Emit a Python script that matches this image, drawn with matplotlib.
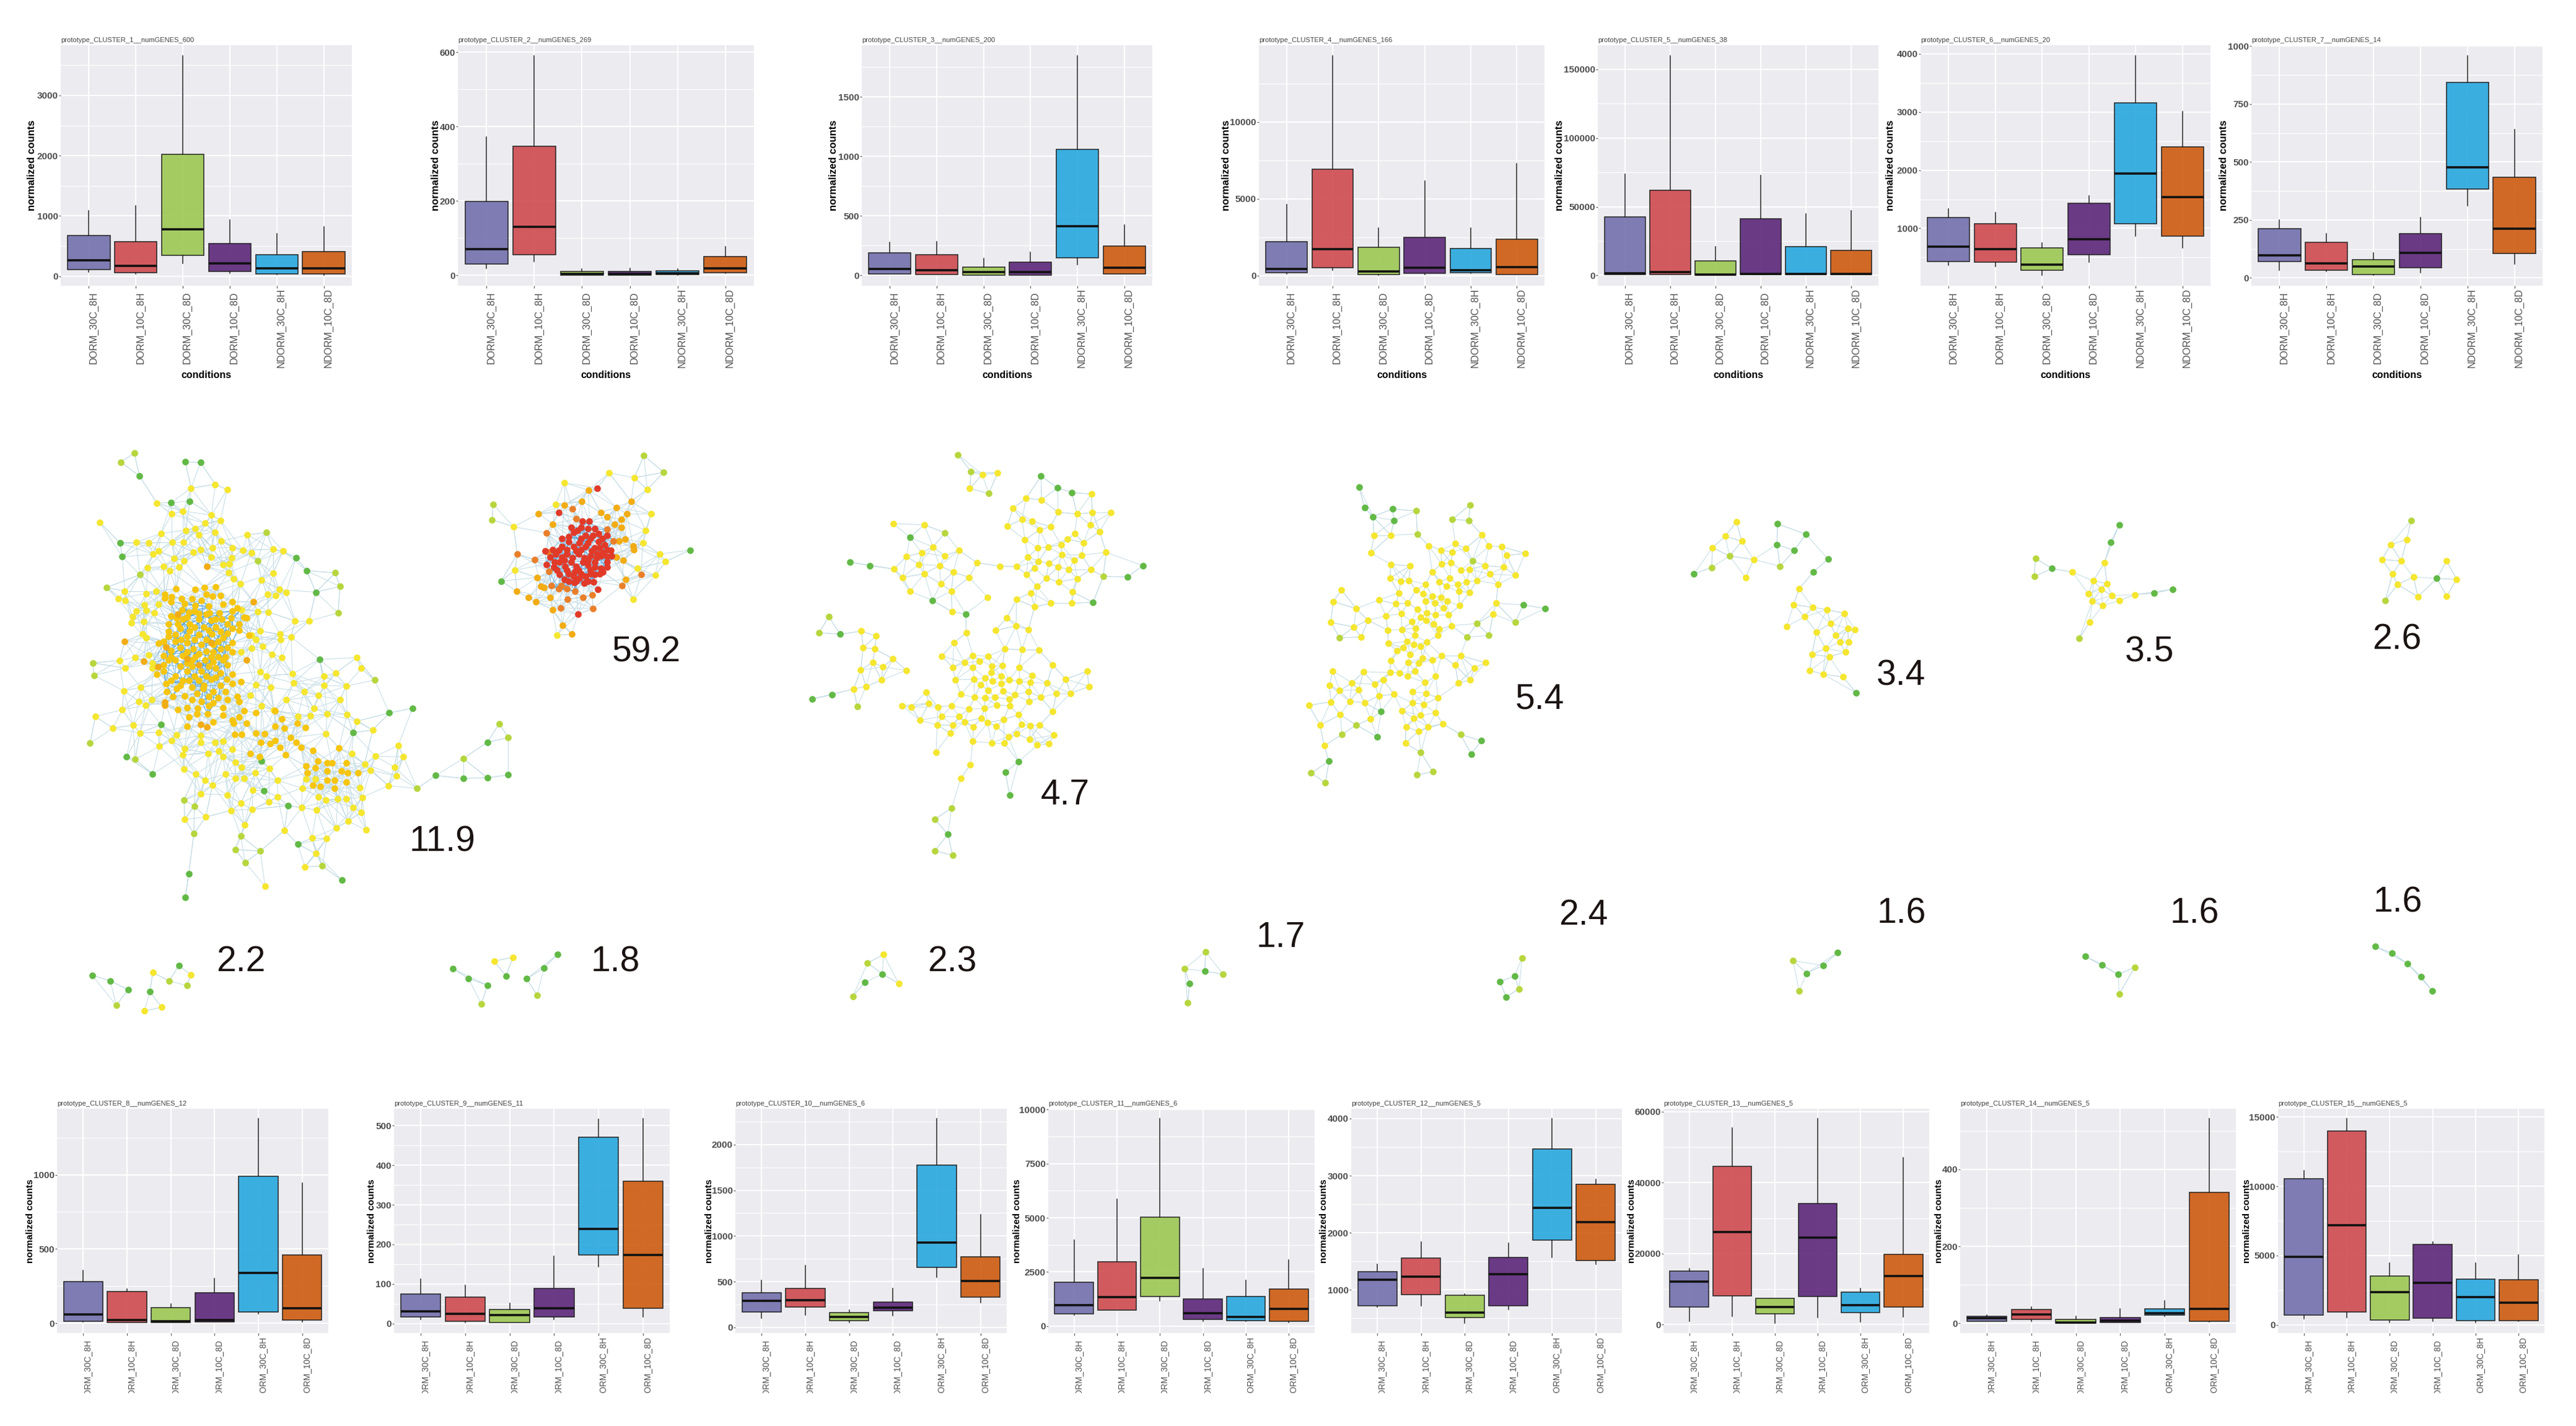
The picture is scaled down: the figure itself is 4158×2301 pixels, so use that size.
import numpy as np
import matplotlib
matplotlib.use("Agg")
import matplotlib.pyplot as plt
from matplotlib.collections import LineCollection
from matplotlib.patches import Rectangle
from matplotlib.ticker import MultipleLocator, AutoMinorLocator
from matplotlib.colors import to_rgba

W, H = 4158, 2301
FONT = ["Liberation Sans"]

conditions = ["DORM_30C_8H", "DORM_10C_8H", "DORM_30C_8D", "DORM_10C_8D", "NDORM_30C_8H", "NDORM_10C_8D"]
box_colors = ["#7573AE", "#CF4E52", "#9EC956", "#5F2B7C", "#2CA9DF", "#CE5E14"]

# low whisker, q1, median, q3, high whisker
cluster_1 = [(64, 107, 260, 670, 1088), (34, 60, 170, 568, 1173), (209, 350, 777, 2023, 3657),
             (51, 77, 213, 542, 935), (30, 38, 132, 358, 704), (21, 38, 132, 410, 819)]
cluster_2 = [(18, 30, 71, 199, 372), (37, 55, 131, 347, 590), (0, 1, 4, 10, 17),
             (0, 1, 3.5, 10, 18), (1, 2, 5, 12, 17), (5, 7, 19, 51, 77)]
cluster_3 = [(11, 13, 54, 188, 276), (6, 9, 45, 173, 285), (2, 4, 26, 69, 145),
             (2, 4, 30, 114, 196), (91, 147, 414, 1060, 1843), (11, 13, 63, 248, 425)]
cluster_4 = [(117, 184, 435, 2228, 4640), (352, 519, 1708, 6918, 14320), (50, 67, 268, 1843, 3082),
             (84, 167, 502, 2479, 6164), (151, 184, 369, 1759, 3116), (67, 84, 570, 2379, 7303)]
cluster_5 = [(400, 600, 1500, 42700, 73800), (400, 600, 2250, 62000, 159900), (200, 200, 750, 10700, 21000),
             (400, 600, 1100, 41400, 73000), (400, 560, 1100, 20800, 45000), (400, 560, 1100, 18400, 47200)]
cluster_6 = [(368, 434, 691, 1186, 1336), (346, 421, 638, 1075, 1270), (200, 284, 373, 660, 753),
             (421, 549, 814, 1433, 1557), (872, 1075, 1937, 3161, 3965), (660, 872, 1535, 2401, 3009)]
cluster_7 = [(34, 69, 98, 212, 250), (27, 33, 61, 154, 190), (12, 14, 49, 79, 108),
             (21, 43, 107, 192, 261), (312, 384, 477, 844, 959), (59, 106, 213, 433, 641)]
cluster_8 = [(11, 16, 60, 282, 355), (4, 6, 22, 214, 231), (4, 6, 13, 105, 132),
             (10, 11, 24, 204, 303), (66, 78, 338, 991, 1376), (11, 23, 101, 461, 945)]
cluster_9 = [(10, 16, 31, 75, 113), (3, 6, 24, 67, 96), (3, 3, 21, 36, 51),
             (11, 16, 38, 88, 170), (144, 173, 239, 471, 516), (16, 39, 174, 360, 518)]
cluster_10 = [(101, 168, 288, 379, 515), (136, 225, 297, 428, 678), (49, 75, 112, 164, 187),
              (126, 178, 218, 276, 426), (547, 657, 926, 1778, 2283), (269, 332, 505, 774, 1235)]
cluster_11 = [(494, 553, 967, 2014, 3968), (720, 740, 1323, 2961, 5854), (1165, 1362, 2221, 5015, 9576),
              (217, 316, 592, 1244, 2646), (227, 257, 424, 1372, 2103), (148, 207, 790, 1708, 3060)]
cluster_12 = [(700, 723, 1180, 1318, 1453), (723, 918, 1228, 1561, 1834), (420, 510, 607, 910, 925),
              (659, 723, 1277, 1572, 1819), (1572, 1868, 2436, 3468, 3996), (1453, 1509, 2187, 2852, 2934)]
cluster_13 = [(1000, 5000, 12100, 15100, 15700), (2400, 8000, 26100, 44600, 55500), (420, 3000, 4900, 7300, 7300),
              (2000, 7900, 24500, 34100, 58000), (800, 3400, 5400, 9100, 10100), (2100, 5000, 13700, 19800, 47000)]
cluster_14 = [(5, 6, 13, 18, 21), (6, 11, 23, 36, 43), (0, 1, 3, 11, 18),
              (2, 2, 7, 16, 37), (19, 21, 27, 38, 59), (4, 6, 38, 341, 531)]
cluster_15 = [(450, 695, 4890, 10525, 11140), (540, 940, 7190, 13980, 14880), (140, 325, 2360, 3520, 4445),
              (250, 460, 3010, 5820, 6000), (170, 295, 1975, 3300, 4445), (260, 295, 1605, 3240, 5050)]

cluster_data = [cluster_1, cluster_2, cluster_3, cluster_4, cluster_5, cluster_6, cluster_7, cluster_8,
                cluster_9, cluster_10, cluster_11, cluster_12, cluster_13, cluster_14, cluster_15]
num_genes = [600, 269, 200, 166, 38, 20, 14, 12, 11, 6, 6, 5, 5, 5, 5]
y_limits = [(-158, 3832), (-28, 618.5), (-86, 1932), (-653, 14990), (-7500, 167600), (15, 4146), (-34, 1004),
            (-65, 1444), (-24, 543), (-63, 2393), (-326, 10040), (244, 4172), (-2400, 60850), (-25, 557.5), (-600, 15600)]
y_steps = [1000, 200, 500, 5000, 50000, 1000, 250, 500, 100, 500, 2500, 1000, 20000, 200, 5000]

# panel layout in image pixels: left, right, gap of y label
row1_top, row1_bottom = 73, 461
row2_top, row2_bottom = 1789, 2151
panel_x = [(98, 568), (739, 1217), (1391, 1860), (2032, 2493), (2579, 3032), (3100, 3568), (3634, 4104),
           (92, 530), (636, 1081), (1187, 1625), (1692, 2122), (2181, 2618), (2685, 3114), (3164, 3609), (3677, 4107)]
ylabel_gap = [46, 36, 46, 53, 62, 48, 44, 43, 36, 42, 50, 44, 51, 34, 50]

GREEN, LIME, YELLOW, GOLD, ORANGE, DARKORANGE, RED = "#62B946", "#B7D63E", "#F5E62F", "#F6C50F", "#F2AC14", "#EA7F2A", "#E23A28"

net1_green = [(294,172),(361,257),(400,252),(391,128),(423,130),(253,384),(258,428),(624,431),(647,472),(666,540),(340,959),(267,1061),(322,1115),(745,984),(821,922),(870,907),(919,1120),(977,1129),(1028,1127),(1072,1118),(1028,1015),(674,753),(557,1168),(607,1215),(552,1074),(398,1431),(391,1505),(628,1337),(721,1451)]
net1_lime = [(283,100),(255,129),(295,485),(225,525),(196,764),(198,803),(190,1018),(285,1069),(543,441),(562,351),(707,479),(717,522),(713,606),(790,818),(880,1161),(1053,956),(1072,1000),(977,1066),(388,1197),(410,1217),(409,1304),(508,1311),(496,1354),(517,1395),(549,1359),(680,1406)]
net1_yellow = [(331,258),(211,320),(403,211),(454,199),(479,216),(362,293),(386,284),(446,296),(465,313),(433,322),(392,344),(412,340),(420,358),(453,350),(340,354),(522,359),(287,383),(313,384),(363,383),(387,383),(467,379),(490,399),(448,400),(424,406),(408,413),(323,420),(334,410),(367,433),(388,441),(512,407),(530,416),(576,404),(597,410),(311,463),(345,459),(471,452),(484,451),(445,430),(489,431),(358,473),(378,460),(482,478),(576,480),(552,501),(492,497),(263,537),(249,561),(264,567),(309,544),(329,537),(589,532),(604,541),(564,547),(581,550),(507,514),(304,580),(334,578),(325,606),(308,597),(288,599),(544,602),(566,603),(509,595),(622,631),(652,631),(279,617),(277,637),(303,634),(590,673),(614,682),(592,690),(549,663),(530,677),(540,689),(300,673),(308,684),(554,712),(508,730),(531,717),(574,737),(594,746),(752,747),(252,756),(285,746),(313,738),(264,780),(321,765),(322,780),(261,852),(297,841),(549,791),(562,805),(617,798),(683,806),(708,796),(762,781),(619,827),(684,835),(730,837),(641,855),(571,841),(539,833),(528,867),(672,867),(293,885),(320,880),(307,898),(258,912),(201,933),(238,970),(281,960),(295,985),(334,983),(372,991),(362,1010),(336,1028),(604,881),(717,881),(551,900),(662,907),(578,914),(690,925),(732,927),(655,931),(753,948),(628,933),(786,976),(687,987),(424,993),(389,1035),(385,1055),(424,1016),(454,1015),(470,1011),(439,1050),(461,1042),(490,1036),(470,1060),(840,1025),(792,1059),(851,1061),(832,1093),(781,1103),(769,1083),(742,1051),(836,1121),(819,1152),(759,1158),(764,1189),(388,1100),(413,1115),(432,1134),(448,1151),(424,1178),(434,1251),(390,1259),(476,1115),(497,1078),(510,1093),(538,1112),(568,1097),(585,1135),(497,1128),(515,1128),(479,1181),(508,1208),(532,1227),(488,1230),(516,1275),(533,1166),(567,1204),(586,1187),(636,1221),(637,1160),(668,1229),(671,1187),(687,1198),(712,1193),(731,1193),(745,1222),(762,1237),(734,1264),(709,1286),(772,1292),(658,1318),(689,1319),(600,1293),(667,1367),(643,1409),(559,1470),(645,1130),(665,1130)]
net1_gold = [(371,529),(383,560),(390,577),(347,546),(347,558),(362,554),(412,531),(431,525),(455,523),(435,546),(448,553),(465,550),(425,567),(384,595),(411,583),(440,585),(470,578),(490,570),(500,590),(515,620),(520,622),(373,622),(398,604),(420,607),(442,606),(462,605),(488,622),(490,600),(375,640),(400,640),(420,625),(445,630),(468,625),(380,655),(400,662),(430,650),(455,650),(490,655),(370,675),(395,680),(420,675),(447,672),(470,685),(525,677),(345,695),(370,695),(395,700),(425,705),(450,705),(490,700),(335,702),(380,715),(408,720),(435,728),(465,720),(345,740),(360,745),(385,740),(412,745),(445,745),(475,745),(395,765),(450,760),(470,755),(345,770),(330,800),(345,790),(370,805),(395,790),(425,790),(440,775),(465,795),(398,820),(420,820),(445,815),(490,800),(508,823),(350,830),(372,845),(405,840),(430,835),(465,835),(490,830),(352,855),(390,868),(415,860),(440,870),(460,875),(500,870),(375,912),(395,905),(417,908),(440,900),(470,905),(505,885),(515,915),(540,922),(580,915),(492,955),(505,935),(438,925),(398,935),(450,950),(395,965),(490,945),(520,955),(528,1050),(548,1060),(510,990),(495,990),(540,985),(558,987),(580,965),(600,970),(594,940),(627,955),(644,968),(613,1000),(580,1010),(590,1030),(570,1020),(550,1015),(625,1015),(635,1030),(603,1055),(660,1040),(690,1080),(670,1075),(715,1033),(700,1080),(730,1080),(645,1090),(665,1095),(690,1105),(720,1105),(648,1112),(690,1135),(705,1135),(730,1140),(675,1155),(705,1160),(733,1112),(755,1112),(660,1150),
             (360,570),(405,560),(395,620),(355,640),(355,665),(410,600),(435,610),(455,625),(480,640),(505,640),(505,660),(360,615),(385,625),(410,650),(440,660),(465,665),(480,670),(355,680),(382,690),(410,690),(435,690),(460,695),(480,715),(360,725),(395,730),(420,735),(450,730),(490,730),(370,755),(405,755),(432,755),(460,745),(355,755),(380,775),(405,775),(455,780),(480,770),(360,820),(385,820),(410,805),(435,805),(455,810),(478,815),(365,870),(405,880),(425,885),(450,890),(480,880),(415,925),(470,930),(428,845),(450,855),(380,835),(475,855)]
net1_orange = [(436,459),(535,571),(263,696),(303,759),(333,776),(350,714),(348,888),(348,898),(437,967),(520,755),(423,958),(395,750),(420,770),(445,700),(375,610)]

net2_green = [(1455,407),(1057,505)]
net2_lime = [(1358,108),(1400,161),(1040,262),(1038,311)]
net2_yellow = [(1285,163),(1338,178),(1365,215),(1190,194),(1083,333),(1172,262),(1373,292),(1362,345),(1356,384),(1391,419),(1404,443),(1382,487),(1336,563),(1175,676),(1086,470),(1344,465)]
net2_orange = [(1241,217),(1227,252),(1190,264),(1136,292),(1267,288),(1300,272),(1331,253),(1322,293),(1281,301),(1310,310),(1166,325),(1090,537),(1133,494),(1141,521),(1115,557),(1130,571),(1147,525),(1160,557),(1165,595),(1187,645),(1206,673),(1320,500),(1337,405),(1335,393),(1318,372),(1306,378),(1296,325),(1310,335),(1315,440),(1300,430)]
net2_darkorange = [(1208,276),(1215,308),(1153,352),(1091,419),(1127,437),(1157,414),(1182,590),(1197,563),(1158,475),(1312,519),(1352,484),(1251,591),(1230,557),(1249,548),(1213,537),(1195,530),(1179,530),(1163,520),(1184,520),(1293,378),(1280,342)]
net2_red = [(1259,211),(1178,289),(1219,610),(1218,345),(1240,340),(1228,315),(1243,315),(1200,365),(1225,370),(1250,360),(1280,360),(1262,380),(1185,395),(1210,395),(1235,395),(1255,400),(1280,405),(1172,420),(1195,420),(1220,420),(1245,425),(1268,425),(1288,408),(1180,445),(1205,445),(1230,445),(1255,445),(1280,445),(1195,470),(1220,470),(1245,470),(1268,465),(1180,485),(1210,490),(1235,490),(1255,485),(1200,505),(1222,495),(1170,445),(1160,430),(1185,370),(1210,350),(1262,355),(1240,385),(1215,410),(1190,440),(1240,455),(1265,400),(1150,410),(1275,390),(1261,532),(1232,511),(1252,507),(1211,510),(1272,476),(1152,452),
            (1200,380),(1222,385),(1245,370),(1270,370),(1195,405),(1225,405),(1248,410),(1272,415),(1185,430),(1208,432),(1232,432),(1258,432),(1280,428),(1168,460),(1192,458),(1215,458),(1255,460),(1280,460),(1200,482),(1225,482),(1245,482),(1265,482),(1175,470),(1190,500),(1215,505),(1240,505),(1235,360),(1205,335),(1225,335),(1255,340),(1178,408),(1165,405),(1290,425),(1260,420),(1240,440),(1212,475)]

net3_green = [(502,173),(530,210),(554,225),(281,367),(180,445),(213,456),(319,566),(375,609),(590,572),(648,492),(674,456),(163,673),(116,878),(149,864),(464,1076),(442,1110),(449,1181),(345,1306)]
net3_lime = [(362,105),(384,159),(414,228),(340,352),(144,617),(128,668),(192,902),(607,490),(323,1258),(323,1358),(353,1372),(351,1223)]
net3_yellow = [(403,168),(429,163),(382,212),(477,243),(503,248),(455,275),(587,230),(531,287),(563,293),(589,288),(620,289),(470,310),(487,315),(445,331),(518,333),(500,343),(585,327),(601,348),(253,323),(305,327),(559,355),(547,372),(475,374),(574,384),(536,390),(497,400),(514,397),(612,414),(320,397),(364,408),(301,415),(275,427),(340,426),(537,421),(571,423),(480,429),(498,442),(515,449),(558,440),(394,447),(296,452),(331,456),(433,458),(461,459),(491,464),(531,460),(549,468),(586,468),(254,467),(354,477),(305,482),(478,484),(269,493),(381,493),(511,495),(563,497),(532,508),(333,513),(495,522),(281,537),(351,537),(485,542),(555,539),(412,556),(461,563),(519,575),(554,575),(491,587),(352,602),(444,622),(460,647),(425,661),(481,658),(376,669),(199,663),(224,679),(202,715),(222,720),(252,750),(355,700),(441,720),(470,722),(499,724),(335,742),(218,762),(235,777),(198,786),(275,787),(387,740),(398,759),(413,742),(373,763),(353,778),(387,778),(419,775),(437,772),(465,778),(522,771),(580,790),(418,794),(233,818),(408,812),(435,805),(487,804),(358,817),(389,816),(420,822),(448,818),(465,822),(484,825),(544,815),(512,828),(583,838),(400,833),(435,830),(207,838),(186,846),(413,850),(438,852),(458,865),(481,854),(552,860),(528,860),(308,856),(367,863),(390,873),(408,875),(424,873),(448,878),(502,873),(313,891),(482,885),(268,899),(283,904),(328,903),(351,899),(380,910),(407,908),(428,897),(449,899),(522,917),(335,933),(364,933),(401,938),(439,943),(464,928),(298,945),(373,950),(327,960),(353,961),(412,953),(388,966),(427,964),(469,959),(484,962),(500,960),(461,988),(349,986),(447,997),(524,992),(483,1005),(387,1012),(419,1017),(440,1017),(496,1024),(515,1020),(325,1046),(383,1085),(367,1128)]

net4_green = [(1039,208),(1048,273),(1062,301),(1095,277),(1098,313),(1316,580),(1353,592),(1076,918),(1069,997),(988,1075),(1245,1010),(1228,1052)]
net4_lime = [(1135,283),(1226,264),(1196,310),(1224,313),(1137,356),(1230,441),(1238,639),(1302,636),(1258,677),(1221,682),(1006,684),(1034,960),(1010,990),(1210,990),(1143,1047),(958,1112),(982,1143),(1136,1118),(1163,1108)]
net4_yellow = [(1064,360),(1092,360),(1246,359),(1059,416),(1156,393),(1201,387),(1177,407),(1196,413),(1219,401),(1258,394),(1279,396),(1319,417),(1288,424),(1092,452),(1125,457),(1178,451),(1194,447),(1251,456),(1283,461),(1162,476),(1211,470),(1225,468),(1260,483),(1303,487),(1091,495),(1192,495),(1109,505),(1123,503),(1151,515),(1174,508),(1186,522),(1205,516),(1220,508),(1238,503),(1273,515),(1009,533),(1106,542),(1135,533),(1147,545),(1162,553),(1177,556),(1207,538),(1225,540),(1072,565),(995,570),(1101,577),(1121,575),(1151,568),(1167,575),(1187,568),(1270,575),(1208,583),(1034,592),(1137,593),(1181,590),(1110,608),(1084,615),(1153,606),(1143,619),(1168,612),(1190,612),(1265,609),(1054,629),(991,636),(1128,634),(1152,630),(1165,640),(1195,646),(1030,650),(1087,660),(1111,658),(1134,654),(1174,657),(1042,682),(1133,677),(1172,677),(1120,696),(1088,702),(1153,697),(1131,706),(1113,716),(1143,712),(1103,725),(1125,736),(1178,741),(1210,741),(1146,749),(1162,755),(1092,756),(1122,762),(1139,764),(1252,763),(1201,771),(1233,780),(994,789),(1046,792),(1091,794),(1107,795),(1133,790),(1121,806),(1168,806),(1080,818),(1226,818),(1027,827),(1065,831),(1150,826),(1206,828),(989,835),(1038,849),(1129,855),(1152,860),(1006,851),(1098,863),(1072,868),(1172,874),(991,887),(1023,885),(1048,890),(1129,890),(1148,895),(954,898),(1111,915),(1007,928),(1168,922),(1143,930),(1131,938),(1058,941),(973,960),(1180,956),(1118,966),(1155,966),(1139,980),(1117,1018),(980,1026)]

net5_green = [(135,355),(271,228),(317,254),(270,280),(298,295),(353,317),(329,350),(399,656)]
net5_lime = [(164,338),(193,309),(275,335)]
net5_yellow = [(204,223),(186,259),(213,272),(165,288),(232,318),(219,364),(306,392),(297,432),(328,439),(351,445),(379,454),(315,463),(357,480),(286,487),(385,492),(397,495),(334,501),(365,510),(372,527),(386,527),(349,543),(381,552),(327,558),(355,564),(323,599),(345,608),(377,615)]
net6_green = [(826,230),(812,275),(717,341),(883,403),(913,393)]
net6_lime = [(690,315),(688,361),(761,518)]
net6_yellow = [(802,326),(750,350),(784,372),(806,379),(797,393),(776,405),(814,409),(851,407),(782,424),(826,422),(799,435),(778,476)]
net7_green = [(1342,366)]
net7_lime = [(1300,219),(1258,422)]
net7_yellow = [(1293,268),(1267,280),(1253,318),(1284,322),(1358,322),(1270,355),(1304,362),(1374,368),(1278,381),(1311,412),(1358,411)]
net8_green = [(61,371),(98,398),(178,451),(237,324),(134,441)]
net8_lime = [(217,398),(253,421),(110,517)]
net8_yellow = [(184,358),(261,369),(202,526),(167,544)]
net9_green = [(791,338),(823,386),(862,420),(899,374),(941,388),(976,336),(1003,271)]
net9_lime = [(962,467),(849,509)]
net9_yellow = [(875,303),(913,284)]
net10_green = [(156,365),(121,404)]
net10_lime = [(126,312),(96,473)]
net10_yellow = [(158,271),(189,411)]
net11_green = [(809,351),(778,411)]
net11_lime = [(810,257),(768,340),(846,366),(774,505)]
net12_green = [(1436,375),(1406,402),(1419,476)]
net12_lime = [(1451,287),(1445,437)]
net13_green = [(318,1365),(345,1345),(368,1313)]
net13_lime = [(296,1333),(306,1410)]
net14_green = [(771,1322),(798,1343),(824,1368)]
net14_lime = [(851,1350),(826,1417)]
net15_green = [(1242,1297),(1269,1314),(1294,1340),(1316,1373),(1335,1410)]

crop_a = (0, 680, 1568 / 1200, 1.96)
crop_b = (1200, 680, 1568 / 1500, 1.96)
crop_c = (2600, 700, 1568 / 1558, 1.568)
crop_d = (100, 1450, 1568 / 1250, 3.0)
crop_e = (1300, 1450, 1568 / 1250, 3.0)

big_ranks = (1, 2, 3, 5, 8, 12, 18, 25)
mid_ranks = (1, 2, 3, 5)
small_ranks = (1, 2)

networks = [
    (crop_a, big_ranks, 60, [(net1_yellow, YELLOW), (net1_green, GREEN), (net1_lime, LIME), (net1_gold, GOLD), (net1_orange, ORANGE)]),
    (crop_a, big_ranks, 60, [(net2_green, GREEN), (net2_lime, LIME), (net2_yellow, YELLOW), (net2_orange, ORANGE), (net2_darkorange, DARKORANGE), (net2_red, RED)]),
    (crop_b, mid_ranks, 45, [(net3_green, GREEN), (net3_lime, LIME), (net3_yellow, YELLOW)]),
    (crop_b, mid_ranks, 45, [(net4_green, GREEN), (net4_lime, LIME), (net4_yellow, YELLOW)]),
    (crop_c, mid_ranks, 45, [(net5_green, GREEN), (net5_lime, LIME), (net5_yellow, YELLOW)]),
    (crop_c, mid_ranks, 45, [(net6_green, GREEN), (net6_lime, LIME), (net6_yellow, YELLOW)]),
    (crop_c, mid_ranks, 45, [(net7_green, GREEN), (net7_lime, LIME), (net7_yellow, YELLOW)]),
    (crop_d, small_ranks, 45, [(net8_green, GREEN), (net8_lime, LIME), (net8_yellow, YELLOW)]),
    (crop_d, small_ranks, 45, [(net9_green, GREEN), (net9_lime, LIME), (net9_yellow, YELLOW)]),
    (crop_e, small_ranks, 45, [(net10_green, GREEN), (net10_lime, LIME), (net10_yellow, YELLOW)]),
    (crop_e, small_ranks, 45, [(net11_green, GREEN), (net11_lime, LIME)]),
    (crop_e, small_ranks, 45, [(net12_green, GREEN), (net12_lime, LIME)]),
    (crop_c, small_ranks, 45, [(net13_green, GREEN), (net13_lime, LIME)]),
    (crop_c, small_ranks, 45, [(net14_green, GREEN), (net14_lime, LIME)]),
    (crop_c, small_ranks, 45, [(net15_green, GREEN)]),
]

share_labels = ["59.2", "11.9", "4.7", "5.4", "3.4", "3.5", "2.6", "2.2", "1.8", "2.3", "1.7", "2.4", "1.6", "1.6", "1.6"]
share_x = [1043, 714, 1719, 2485, 3068, 3469, 3869, 389, 993, 1537, 2067, 2556, 3069, 3542, 3870]
share_y = [1053, 1359, 1283, 1129, 1091, 1053, 1033, 1552, 1552, 1552, 1513, 1477, 1475, 1475, 1456]


def to_pixels(points, crop):
    ox, oy, sx, sy = crop
    pts = np.array(points, dtype=float)
    return np.column_stack([pts[:, 0] / sx + ox, pts[:, 1] / sy + oy])


def neighbour_edges(xy, ranks, max_len, hub_len=24):
    # nearest two always, the further ones only when they are close; blue inside a dense hub
    dist = np.hypot(xy[:, None, 0] - xy[None, :, 0], xy[:, None, 1] - xy[None, :, 1])
    order = np.argsort(dist, axis=1)
    k = min(8, len(xy) - 1)
    hub = dist[np.arange(len(xy)), order[:, k]] < hub_len
    pale, blue = [], []
    for i in range(len(xy)):
        for n, r in enumerate(ranks):
            if r >= len(xy):
                continue
            j = order[i, r]
            if n >= 2 and dist[i, j] > max_len:
                continue
            (blue if hub[i] and hub[j] else pale).append([xy[i], xy[j]])
    return pale, blue


def draw_box_panel(i, top, bottom, row1):
    x0, x1 = panel_x[i]
    ax = fig.add_axes([x0 / W, 1 - bottom / H, (x1 - x0) / W, (bottom - top) / H])
    ax.set_facecolor("#ECECF0")
    stats = [{"whislo": s[0], "q1": s[1], "med": s[2], "q3": s[3], "whishi": s[4], "fliers": []} for s in cluster_data[i]]
    parts = ax.bxp(stats, positions=range(1, 7), widths=0.9, patch_artist=True, showfliers=False, showcaps=False,
                   boxprops=dict(edgecolor="#222222", linewidth=1.1),
                   whiskerprops=dict(color="#222222", linewidth=1.1),
                   medianprops=dict(color="#111111", linewidth=2.6, solid_capstyle="butt"))
    for patch, c in zip(parts["boxes"], box_colors):
        patch.set_facecolor(to_rgba(c, 0.92))
    ax.set_xlim(0.4, 6.6)
    ax.set_ylim(*y_limits[i])
    ax.yaxis.set_major_locator(MultipleLocator(y_steps[i]))
    ax.yaxis.set_minor_locator(AutoMinorLocator(2))
    ax.set_axisbelow(True)
    ax.grid(True, which="major", color="white", linewidth=1.5)
    ax.grid(True, which="minor", axis="y", color="white", linewidth=0.8)
    ax.tick_params(axis="y", which="minor", length=0)
    ax.tick_params(axis="y", which="major", length=2, width=0.8, pad=1, color="#555555", labelcolor="#4D4D4D")
    for spine in ax.spines.values():
        spine.set_visible(False)
    for lab in ax.get_yticklabels():
        lab.set_family(FONT)
        lab.set_fontsize(11)
        lab.set_fontweight("bold")
    ax.set_xticks(range(1, 7))
    ax.set_xticklabels(conditions, rotation=90, family=FONT, fontsize=11.5 if row1 else 9.8, color="#4D4D4D")
    ax.tick_params(axis="x", length=3, width=0.8, pad=46 if row1 else 40, color="#555555")
    for lab in ax.get_xticklabels():
        lab.set_va("center")
        lab.set_ha("left")
    ax.set_title("prototype_CLUSTER_%d__numGENES_%d" % (i + 1, num_genes[i]), loc="left", pad=3.5,
                 family=FONT, fontsize=8, color="#444444")
    mid_y = (top + bottom) / 2
    fig.text((x0 - ylabel_gap[i]) / W, 1 - mid_y / H, "normalized counts", rotation=90, ha="center", va="center",
             family=FONT, fontweight="bold", fontsize=12 if row1 else 11)
    if row1:
        fig.text((x0 + x1) / 2 / W, 1 - 606 / H, "conditions", ha="center", va="center",
                 family=FONT, fontweight="bold", fontsize=11.5)


fig = plt.figure(figsize=(W / 100, H / 100), dpi=100, facecolor="white")

for i in range(7):
    draw_box_panel(i, row1_top, row1_bottom, True)
for i in range(7, 15):
    draw_box_panel(i, row2_top, row2_bottom, False)

# the bottom row labels are cut by the edge of the original crop
fig.add_artist(Rectangle((0, 0), 1, 1 - 2248 / H, transform=fig.transFigure, facecolor="white", edgecolor="none", zorder=10))

net_ax = fig.add_axes([0, 0, 1, 1], zorder=5)
net_ax.set_xlim(0, W)
net_ax.set_ylim(H, 0)
net_ax.axis("off")
net_ax.patch.set_alpha(0)

for crop, ranks, max_len, groups in networks:
    all_xy = np.vstack([to_pixels(pts, crop) for pts, _ in groups])
    pale, blue = neighbour_edges(all_xy, ranks, max_len)
    net_ax.add_collection(LineCollection(pale, colors="#C2DBE4", linewidths=0.7, zorder=1))
    if blue:
        net_ax.add_collection(LineCollection(blue, colors="#4C9FD6", linewidths=0.9, alpha=0.6, zorder=1))
    for pts, col in groups:
        xy = to_pixels(pts, crop)
        net_ax.scatter(xy[:, 0], xy[:, 1], s=60, c=col, linewidths=0, zorder=2)

for lab, x, y in zip(share_labels, share_x, share_y):
    net_ax.text(x, y, lab, ha="center", va="center", family=FONT, fontsize=41, color="#1A1311", zorder=3)

fig.savefig("out.png", dpi=100)
